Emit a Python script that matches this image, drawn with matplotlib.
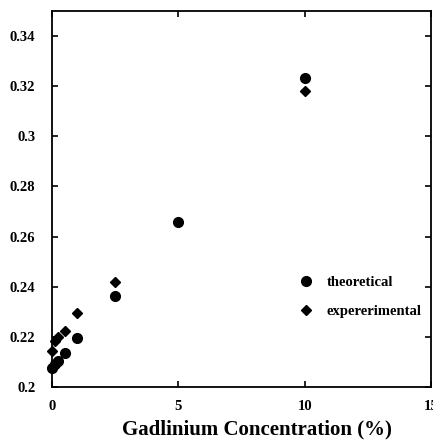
import matplotlib
matplotlib.use("Agg")
import matplotlib.pyplot as plt
from matplotlib.lines import Line2D

# Data
theo_x = [0, 0.1, 0.25, 0.5, 1, 2.5, 5, 10]
theo_y = [0.2075, 0.209, 0.2105, 0.2135, 0.2195, 0.2365, 0.266, 0.3232]
exp_x = [0, 0.1, 0.25, 0.5, 1, 2.5, 10]
exp_y = [0.2142, 0.2184, 0.2200, 0.2222, 0.2294, 0.2417, 0.3179]
y_ticks = [0.2, 0.22, 0.24, 0.26, 0.28, 0.3, 0.32, 0.34]
y_labels = ["0.2", "0.22", "0.24", "0.26", "0.28", "0.3", "0.32", "0.34"]
x_ticks = [0, 5, 10, 15]
x_labels = ["0", "5", "10", "15"]
series_names = ["theoretical", "expererimental"]
x_title = "Gadlinium Concentration (%)"

plt.rcParams['font.family'] = ['Liberation Serif', 'DejaVu Serif']
plt.rcParams['font.weight'] = 'bold'

W, H = 433, 442
fig = plt.figure(figsize=(W / 100, H / 100), dpi=100)
ax = fig.add_axes([52 / W, 1 - 387 / H, (431 - 52) / W, (387 - 11) / H])

ax.plot(theo_x, theo_y, linestyle='none', marker='o', markersize=7,
        color='black', clip_on=False)
ax.plot(exp_x, exp_y, linestyle='none', marker='D', markersize=5,
        color='black', clip_on=False)

ax.set_xlim(0, 15)
ax.set_ylim(0.2, 0.35)
ax.set_xticks(x_ticks)
ax.set_xticklabels(x_labels)
ax.set_yticks(y_ticks)
ax.set_yticklabels(y_labels)

for s in ax.spines.values():
    s.set_linewidth(1.3)
    s.set_color('black')

ax.tick_params(direction='in', length=4, width=1.2, top=True, right=True,
               labelsize=10.5)
ax.tick_params(axis='x', pad=9)
ax.tick_params(axis='y', pad=12)
for lab in ax.get_xticklabels() + ax.get_yticklabels():
    lab.set_fontweight('bold')

ax.set_xlabel(x_title, fontsize=15, fontweight='bold')
ax.xaxis.set_label_coords((257 - 52) / 379, -(419 - 387) / 376)

handles = [
    Line2D([], [], linestyle='none', marker='o', markersize=7, color='black'),
    Line2D([], [], linestyle='none', marker='D', markersize=5, color='black'),
]
leg = ax.legend(handles, series_names, frameon=False, loc='center left',
                bbox_to_anchor=((299 - 52) / 379, (387 - 297) / 376),
                prop={'family': 'Liberation Serif', 'weight': 'bold', 'size': 10.5},
                handletextpad=0.9, labelspacing=1.1, handlelength=1.0,
                borderaxespad=0, borderpad=0)

fig.savefig("out.png", dpi=100)
